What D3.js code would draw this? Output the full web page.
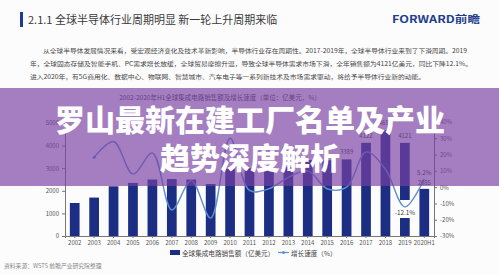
<!DOCTYPE html>
<html>
<head>
<meta charset="utf-8" />
<style>
  body { margin: 0; background: #fcfcfc; }
  svg { display: block; }
  text { font-family: "Noto Sans CJK SC", "Noto Sans", sans-serif; }
  .axis path, .axis line { stroke: #777; }
  .axis text { fill: #555; font-size: 6px; }
</style>
<script src="https://cdn.jsdelivr.net/npm/d3@7/dist/d3.min.js"></script>
</head>
<body>
<div id="graph"></div>
<script>
  // categories and series
  var years = ['2002','2003','2004','2005','2006','2007','2008','2009','2010','2011',
               '2012','2013','2014','2015','2016','2017','2018','2019','2020H1'];
  var sales = [1460, 1700, 2200, 2350, 2500, 2520, 2500, 2300, 2980, 3000,
               2920, 3050, 3360, 3350, 3389, 4122, 4688, 4121, 2085];
  var growth = [null, 18.3, 28, 8, 21, -14, 4, -19, 30, -2,
                -1, 6, 10, -1, 0, 21.6, 11, -12.1, 5.2];
  var leftTicks = [0, 1000, 2000, 3000, 4000, 5000];
  var rightTicks = [-30, -20, -10, 0, 10, 20, 30, 40];
  var salesLabels = {'2016': '3389', '2017': '4122', '2018': '4688', '2019': '4121', '2020H1': '2085'};

  var paragraph = [
    '从全球半导体发展情况来看，受宏观经济变化及技术革新影响，半导体行业存在周期性。2017-2019年，全球半导体行业来到了下滑周期。2019',
    '年，全球固态存储及智能手机、PC需求增长放缓，全球贸易摩擦升温，导致全球半导体需求市场下滑，全年销售额为4121亿美元，同比下降12.1%。',
    '进入2020年，有5G商用化、数据中心、物联网、智慧城市、汽车电子等一系列新技术及市场需求驱动，将给予半导体行业新的动能。'
  ];

  var w = 499, h = 275;
  var svg = d3.select('#graph').append('svg').attr('width', w).attr('height', h);

  // header
  svg.append('rect').attr('x', 20).attr('y', 12).attr('width', 3).attr('height', 15).attr('fill', '#1f3a8f');
  svg.append('text').attr('x', 28).attr('y', 24).attr('font-size', 11).attr('fill', '#3a3a3a')
    .text('2.1.1 全球半导体行业周期明显  新一轮上升周期来临');
  svg.append('text').attr('x', 392).attr('y', 23).attr('font-size', 10).attr('font-weight', 'bold')
    .attr('fill', '#1f3f8f').attr('textLength', 88).attr('lengthAdjust', 'spacingAndGlyphs')
    .text('FORWARD前瞻');

  // paragraph
  var pStarts = [43, 30, 30], pEnds = [467, 472, 425];
  svg.selectAll('.para').data(paragraph).enter().append('text')
    .attr('class', 'para')
    .attr('x', (d, i) => pStarts[i])
    .attr('y', (d, i) => 53 + i * 13)
    .attr('font-size', 5.6).attr('fill', '#444')
    .attr('textLength', (d, i) => pEnds[i] - pStarts[i])
    .attr('lengthAdjust', 'spacingAndGlyphs')
    .text(d => d);

  // chart
  var x = d3.scaleBand().domain(years).range([65, 434]).paddingInner(0.5).paddingOuter(0.25);
  var yL = d3.scaleLinear().domain([0, 5000]).range([236, 123]);
  var yR = d3.scaleLinear().domain([-30, 40]).range([236, 122]);

  svg.append('text').attr('x', 220).attr('y', 100).attr('text-anchor', 'middle')
    .attr('font-size', 6.5).attr('fill', '#444')
    .text('2002-2020年H1全球集成电路销售额及增长速度（单位：亿美元，%）');

  svg.append('g').selectAll('rect').data(years).enter().append('rect')
    .attr('x', d => x(d))
    .attr('y', (d, i) => yL(sales[i]))
    .attr('width', x.bandwidth())
    .attr('height', (d, i) => yL(0) - yL(sales[i]))
    .attr('fill', '#1b2e83');

  svg.append('g').selectAll('text').data(years.filter(d => salesLabels[d] && d !== '2020H1')).enter().append('text')
    .attr('x', d => x(d) + x.bandwidth() / 2)
    .attr('y', d => yL(sales[years.indexOf(d)]) - 5)
    .attr('text-anchor', 'middle').attr('font-size', 6).attr('fill', '#333')
    .text(d => salesLabels[d]);

  svg.append('g').attr('class', 'axis').attr('transform', 'translate(65,0)')
    .call(d3.axisLeft(yL).tickValues(leftTicks).tickSize(3).tickPadding(3).tickFormat(d3.format('d')));
  svg.append('g').attr('class', 'axis').attr('transform', 'translate(434,0)')
    .call(d3.axisRight(yR).tickValues(rightTicks).tickSize(3).tickPadding(3).tickFormat(d => d + '%'));
  var xa = svg.append('g').attr('class', 'axis').attr('transform', 'translate(0,236)')
    .call(d3.axisBottom(x).tickSize(2).tickPadding(3));
  xa.selectAll('text').attr('font-size', 6.3);

  // white box behind the -12.1% label
  svg.append('rect').attr('x', x('2019') - 4).attr('y', 200).attr('width', x.bandwidth() + 8).attr('height', 18).attr('fill', '#fff');

  // growth line
  var pts = years.map((d, i) => [x(d) + x.bandwidth() / 2, growth[i]]).filter(p => p[1] !== null);
  svg.append('path').datum(pts)
    .attr('fill', 'none').attr('stroke', '#5f8fcf').attr('stroke-width', 1.4)
    .attr('d', d3.line().x(p => p[0]).y(p => yR(p[1])).curve(d3.curveCatmullRom));
  svg.append('circle').attr('cx', pts[0][0]).attr('cy', yR(pts[0][1])).attr('r', 1.5).attr('fill', '#5f8fcf');

  svg.append('text').attr('x', x('2019') + x.bandwidth() / 2).attr('y', 215)
    .attr('text-anchor', 'middle').attr('font-size', 6.3).attr('fill', '#333').text('-12.1%');
  svg.append('text').attr('x', x('2020H1') + x.bandwidth() / 2).attr('y', 175)
    .attr('text-anchor', 'middle').attr('font-size', 6.3).attr('fill', '#333').text('5.2%');
  svg.append('text').attr('x', x('2020H1') + x.bandwidth() / 2).attr('y', 185)
    .attr('text-anchor', 'middle').attr('font-size', 6).attr('fill', '#333').text(salesLabels['2020H1']);

  // legend
  svg.append('rect').attr('x', 170).attr('y', 250).attr('width', 10).attr('height', 5).attr('fill', '#1b2e83');
  svg.append('text').attr('x', 182).attr('y', 255.5).attr('font-size', 6.6).attr('fill', '#444')
    .text('全球集成电路销售额（亿美元）');
  svg.append('line').attr('x1', 278).attr('x2', 289).attr('y1', 252.5).attr('y2', 252.5)
    .attr('stroke', '#5f8fcf').attr('stroke-width', 1.2);
  svg.append('circle').attr('cx', 283.5).attr('cy', 252.5).attr('r', 1.5).attr('fill', '#5f8fcf');
  svg.append('text').attr('x', 291).attr('y', 255.5).attr('font-size', 6.6).attr('fill', '#444')
    .text('增长速度（%）');

  svg.append('text').attr('x', 4).attr('y', 268).attr('font-size', 5.8).attr('fill', '#888')
    .text('资料来源：WSTS 前瞻产业研究院整理');

  // purple banner with the page title
  svg.append('rect').attr('x', 0).attr('y', 88).attr('width', w).attr('height', 98)
    .attr('fill', 'rgb(121,64,163)').attr('fill-opacity', 0.67);
  var titleLines = ['罗山最新在建工厂名单及产业', '趋势深度解析'];
  svg.selectAll('.ttl').data(titleLines).enter().append('text')
    .attr('class', 'ttl')
    .attr('x', 250).attr('y', (d, i) => 131 + i * 38)
    .attr('text-anchor', 'middle').attr('font-size', 30).attr('font-weight', 900)
    .attr('fill', '#fff')
    .text(d => d);
</script>
</body>
</html>
